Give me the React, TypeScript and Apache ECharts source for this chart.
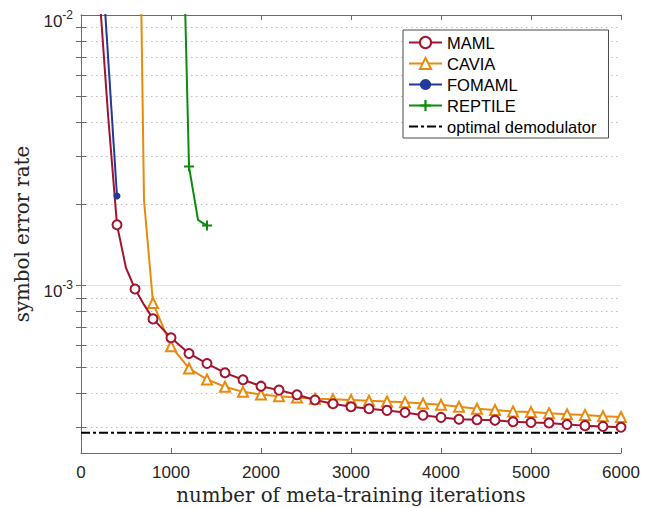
import React, { useEffect, useRef } from "react";
import * as echarts from "echarts";

// ---- data ----
const xTickValues = [0, 1000, 2000, 3000, 4000, 5000, 6000];
const yLabelValues = [1e-3, 1e-2];
const yTickValues = [3e-4, 4e-4, 5e-4, 6e-4, 7e-4, 8e-4, 9e-4, 1e-3, 2e-3, 3e-3, 4e-3, 5e-3, 6e-3, 7e-3, 8e-3, 9e-3];
const yMajorGrid = [1e-3];

const mamlIter = [0, 100, 200, 300, 400, 500, 600, 700, 800, 1000, 1200, 1400, 1600, 1800, 2000, 2200, 2400, 2600, 2800, 3000, 3200, 3400, 3600, 3800, 4000, 4200, 4400, 4600, 4800, 5000, 5200, 5400, 5600, 5800, 6000];
const mamlSer = [0.45, 0.08, 0.0126, 4.3e-3, 1.675e-3, 1.16e-3, 9.7e-4, 8.49e-4, 7.52e-4, 6.4e-4, 5.6e-4, 5.14e-4, 4.75e-4, 4.48e-4, 4.24e-4, 4.1e-4, 3.94e-4, 3.77e-4, 3.65e-4, 3.56e-4, 3.5e-4, 3.45e-4, 3.39e-4, 3.31e-4, 3.25e-4, 3.2e-4, 3.185e-4, 3.17e-4, 3.13e-4, 3.11e-4, 3.1e-4, 3.06e-4, 3.03e-4, 3.01e-4, 2.99e-4];

const caviaIter = [0, 200, 400, 600, 700, 800, 1000, 1200, 1400, 1600, 1800, 2000, 2200, 2400, 2600, 2800, 3000, 3200, 3400, 3600, 3800, 4000, 4200, 4400, 4600, 4800, 5000, 5200, 5400, 5600, 5800, 6000];
const caviaSer = [0.5, 0.49, 0.48, 0.47, 2.07e-3, 8.61e-4, 5.96e-4, 4.93e-4, 4.49e-4, 4.22e-4, 4.04e-4, 3.95e-4, 3.89e-4, 3.85e-4, 3.81e-4, 3.79e-4, 3.77e-4, 3.745e-4, 3.72e-4, 3.7e-4, 3.66e-4, 3.62e-4, 3.56e-4, 3.5e-4, 3.46e-4, 3.42e-4, 3.4e-4, 3.37e-4, 3.34e-4, 3.32e-4, 3.28e-4, 3.26e-4];

const fomamlIter = [200, 400];
const fomamlSer = [0.0233, 2.14e-3];

const reptileIter = [1100, 1200, 1300, 1400];
const reptileSer = [0.0636, 2.75e-3, 1.747e-3, 1.665e-3];

const optimalIter = [0, 6000];
const optimalSer = [2.85e-4, 2.85e-4];

const seriesNames = ["MAML", "CAVIA", "FOMAML", "REPTILE", "optimal demodulator"];

const SANS = "'Liberation Sans', Arial, Helvetica, sans-serif";
const SERIF = "'DejaVu Serif', serif";
const DASH_DOT_ICON = "path://M0,0H9V2H0Z M12,0H15V2H12Z M18,0H27V2H18Z M30,0H33V2H30Z";

function build(xs: number[], ys: number[]) {
  return xs.map((x, i) => (x % 200 === 0 ? [x, ys[i]] : { value: [x, ys[i]], symbol: "none" }));
}

export default function App() {
  const ref = useRef<HTMLDivElement>(null);
  useEffect(() => {
    if (!ref.current) return;
    const chart = echarts.init(ref.current, undefined, { renderer: "svg" });
    const axisColor = "#6b6b6b";
    const yAxisBase = {
      type: "log",
      logBase: 10,
      min: 2.4e-4,
      max: 1e-2,
      axisLine: { show: true, lineStyle: { color: axisColor, width: 1 } },
      axisTick: { show: true, inside: true, length: 5, customValues: yTickValues, lineStyle: { color: axisColor } },
      splitLine: { show: false },
      minorTick: { show: false },
      minorSplitLine: { show: false },
    };
    const xAxisBase = {
      type: "value",
      min: 0,
      max: 6000,
      interval: 1000,
      axisLine: { show: true, onZero: false, lineStyle: { color: axisColor, width: 1 } },
      axisTick: { show: true, inside: true, length: 5, lineStyle: { color: axisColor } },
      splitLine: { show: false },
    };
    const option: any = {
      animation: false,
      backgroundColor: "#ffffff",
      grid: { left: 81, right: 39, top: 15, bottom: 55, containLabel: false, outerBoundsMode: "none" },
      legend: {
        data: seriesNames.map((n) => (n === "optimal demodulator" ? { name: n, icon: DASH_DOT_ICON } : { name: n })),
        orient: "vertical",
        left: 403,
        top: 30,
        itemWidth: 33,
        itemHeight: 14,
        itemGap: 4,
        padding: [4, 12, 3, 5],
        backgroundColor: "#ffffff",
        borderColor: "#4a4a4a",
        borderWidth: 1,
        borderRadius: 0,
        textStyle: { fontFamily: SANS, fontSize: 16.5, color: "#000" },
        z: 10,
      },
      xAxis: [
        {
          ...xAxisBase,
          position: "bottom",
          axisLabel: {
            show: true,
            customValues: xTickValues,
            formatter: (v: number) => String(v),
            margin: 11,
            fontFamily: SANS,
            fontSize: 17,
            lineHeight: 17,
            color: "#262626",
          },
          name: "number of meta-training iterations",
          nameLocation: "middle",
          nameGap: 20,
          nameTextStyle: { fontFamily: SERIF, fontSize: 19.8, color: "#262626" },
        },
        { ...xAxisBase, position: "top", axisLabel: { show: false } },
      ],
      yAxis: [
        {
          ...yAxisBase,
          position: "left",
          splitLine: { show: true, lineStyle: { type: [1.5, 3.5], color: "#bcbcbc", width: 1 } },
          axisLabel: {
            show: true,
            customValues: yLabelValues,
            showMinLabel: true,
            showMaxLabel: true,
            margin: 8,
            formatter: (v: number) => `{b|10}{s|${Math.round(Math.log10(v))}}`,
            rich: {
              b: { fontFamily: SANS, fontSize: 17, color: "#262626", lineHeight: 22, verticalAlign: "bottom" },
              s: { fontFamily: SANS, fontSize: 12, color: "#262626", lineHeight: 30, verticalAlign: "middle" },
            },
          },
          name: "symbol error rate",
          nameLocation: "middle",
          nameGap: 45,
          nameTextStyle: { fontFamily: SERIF, fontSize: 19.8, color: "#262626" },
        },
        { ...yAxisBase, position: "right", axisLabel: { show: false } },
        {
          ...yAxisBase,
          position: "left",
          axisLine: { show: false },
          axisTick: { show: false, customValues: yMajorGrid },
          axisLabel: { show: false },
          splitLine: { show: true, lineStyle: { type: "solid", color: "#e2e2e2", width: 1 } },
        },
      ],
      series: [
        {
          name: "optimal demodulator",
          type: "line",
          data: optimalIter.map((x, i) => [x, optimalSer[i]]),
          symbol: "none",
          lineStyle: { color: "#000", width: 2, type: [9, 3, 3, 3] },
          itemStyle: { color: "#000" },
          z: 2,
        },
        {
          name: "CAVIA",
          type: "line",
          data: build(caviaIter, caviaSer),
          symbol: "emptyTriangle",
          symbolSize: 10,
          lineStyle: { color: "#EA8A0C", width: 2 },
          itemStyle: { color: "#EA8A0C", borderWidth: 1.8 },
          z: 4,
        },
        {
          name: "MAML",
          type: "line",
          data: build(mamlIter, mamlSer),
          symbol: "emptyCircle",
          symbolSize: 9,
          lineStyle: { color: "#A2142F", width: 2 },
          itemStyle: { color: "#A2142F", borderWidth: 1.8 },
          z: 5,
        },
        {
          name: "FOMAML",
          type: "line",
          data: build(fomamlIter, fomamlSer),
          symbol: "circle",
          symbolSize: 7,
          lineStyle: { color: "#22399A", width: 2 },
          itemStyle: { color: "#22399A" },
          z: 5,
        },
        {
          name: "REPTILE",
          type: "line",
          data: build(reptileIter, reptileSer),
          symbol: "path://M4,0H6V4H10V6H6V10H4V6H0V4H4Z",
          symbolSize: 10,
          lineStyle: { color: "#0E8A0E", width: 2 },
          itemStyle: { color: "#0E8A0E" },
          z: 5,
        },
      ],
    };
    chart.setOption(option);
    return () => chart.dispose();
  }, []);
  return <div ref={ref} style={{ position: "fixed", left: 0, top: 0, width: 660, height: 508 }} />;
}
